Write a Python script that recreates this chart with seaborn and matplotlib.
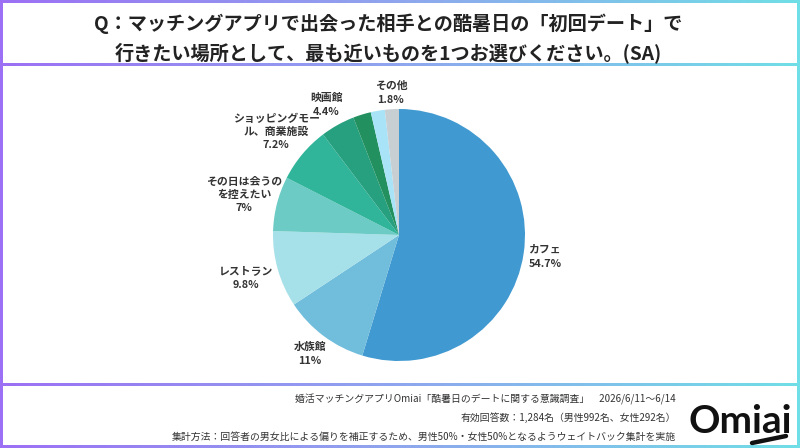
import numpy as np
import matplotlib
matplotlib.use("Agg")
import matplotlib.pyplot as plt
import seaborn as sns
from matplotlib.patches import Rectangle
from matplotlib.colors import LinearSegmentedColormap

sns.set_theme(style="white")
plt.rcParams['font.family'] = ['Noto Sans CJK JP', 'DejaVu Sans']

# data (clockwise from 12 o'clock)
categories = ['カフェ', '水族館', 'レストラン', 'その日は会うの\nを控えたい',
              'ショッピングモー\nル、商業施設', '映画館', '', '', 'その他']
values = [54.7, 11, 9.8, 7, 7.2, 4.4, 2.3, 1.8, 1.8]
show_label = [True, True, True, True, True, True, False, False, True]
colors = ['#4099d0', '#70bddc', '#a6e0e8', '#6ccbc5', '#30b59a',
          '#27a07f', '#23915f', '#a9e3f8', '#c8cfd3']
# label distance from centre, in pie radii
label_r = [1.17, 1.18, 1.26, 1.27, 1.27, 1.18, 1.2, 1.2, 1.13]

title = ('Q：マッチングアプリで出会った相手との酷暑日の「初回デート」で\n'
         '行きたい場所として、最も近いものを1つお選びください。(SA)')
notes = ['婚活マッチングアプリOmiai「酷暑日のデートに関する意識調査」　2026/6/11～6/14',
         '有効回答数：1,284名（男性992名、女性292名）',
         '集計方法：回答者の男女比による偏りを補正するため、男性50%・女性50%となるようウェイトバック集計を実施']

W, H = 800, 448
fig = plt.figure(figsize=(8, 4.48), dpi=100)

# gradient frame behind white panels
bg = fig.add_axes([0, 0, 1, 1])
cmap = LinearSegmentedColormap.from_list('frame', ['#9c70f4', '#8fa6ee', '#70dee6'])
bg.imshow(np.linspace(0, 1, 256)[None, :], aspect='auto', cmap=cmap, extent=[0, 1, 0, 1])
bg.set_xlim(0, 1)
bg.set_ylim(0, 1)
bg.axis('off')

def panel(y0, y1, x0=3, x1=797):
    # pixel box from top -> figure coords
    bg.add_patch(Rectangle((x0 / W, 1 - y1 / H), (x1 - x0) / W, (y1 - y0) / H,
                           facecolor='white', edgecolor='none', zorder=2))

panel(3, 63)
panel(66, 383)
panel(386, 445)

fig.text(0.485, 1 - 38 / H, title, ha='center', va='center', fontsize=13.8,
         fontweight='bold', color='#222222', linespacing=1.5)

for i, t in enumerate(notes):
    fig.text(676 / W, 1 - (399 + 19 * i) / H, t, ha='right', va='center',
             fontsize=7.1, color='#333333')

# Omiai logo
fig.text(740 / W, 1 - 421 / H, 'Omiai', ha='center', va='center', fontsize=28,
         fontweight='bold', color='#111111', family=['Lato', 'DejaVu Sans'])
bg.plot([752 / W, 786 / W], [1 - 443 / H, 1 - 436 / H], color='#111111', lw=3.2,
        solid_capstyle='round', zorder=3)

# pie: centre (399, 235) px, radius 126 px
r = 126
ax = fig.add_axes([(399 - r) / W, 1 - (235 + r) / H, 2 * r / W, 2 * r / H])
wedges, _ = ax.pie(values, colors=colors, startangle=90, counterclock=False,
                   radius=1, wedgeprops=dict(linewidth=0))
ax.set_xlim(-1, 1)
ax.set_ylim(-1, 1)
ax.set_aspect('equal')
ax.axis('off')

px = 72 / 100  # pixels -> points
lab = dict(ha='center', va='center', fontsize=7.8, fontweight='bold',
           color='#333333', textcoords='offset points', annotation_clip=False)
for w, name, v, show, d in zip(wedges, categories, values, show_label, label_r):
    if not show:
        continue
    ang = np.deg2rad((w.theta1 + w.theta2) / 2)
    xy = (d * np.cos(ang), d * np.sin(ang))
    multi = '\n' in name
    t = ax.annotate(name, xy, xytext=(0, 7 * px), **lab)
    t.set_linespacing(1.4)
    ax.annotate(f'{v:g}%', xy, xytext=(0, -(13 if multi else 7) * px), **lab)

fig.savefig('out.png', dpi=100)
